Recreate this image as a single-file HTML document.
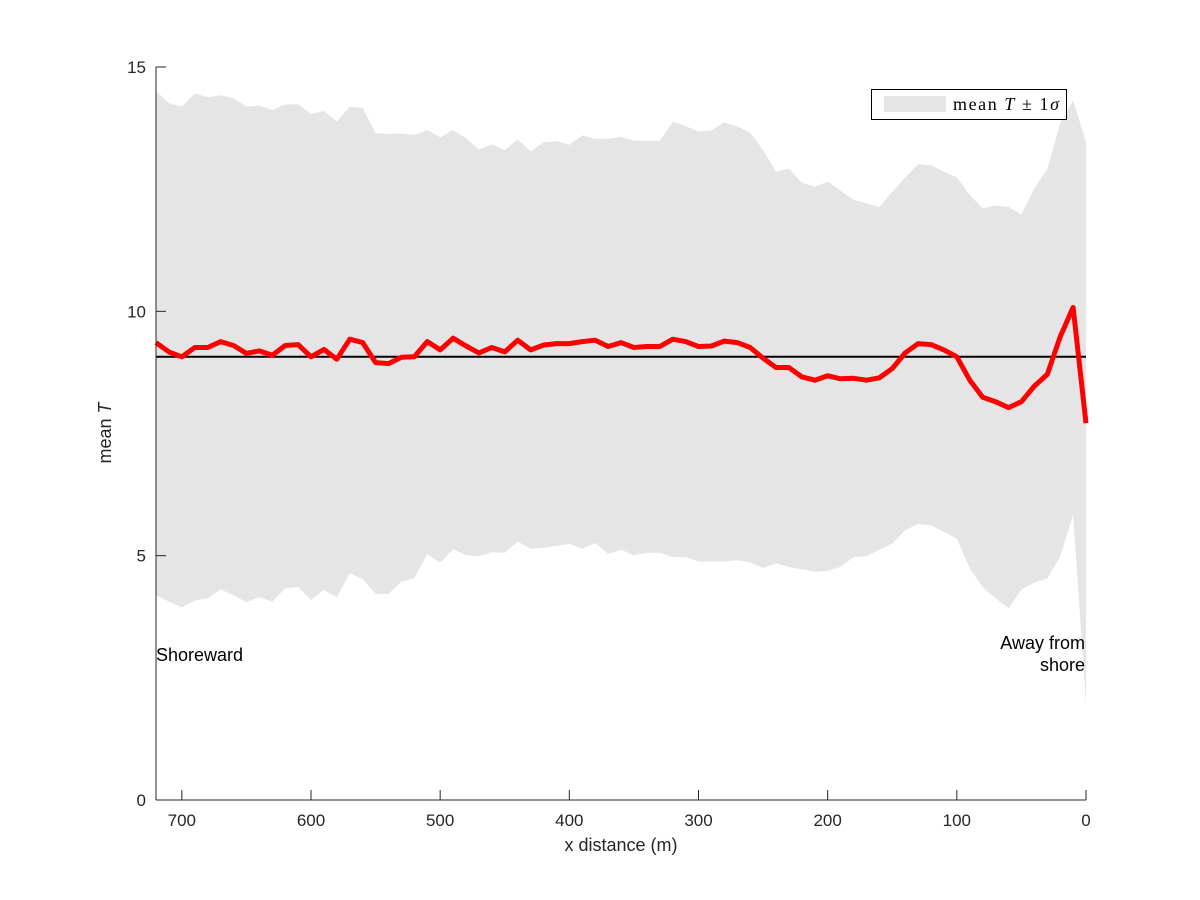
<!DOCTYPE html>
<html><head><meta charset="utf-8"><style>
html,body{margin:0;padding:0;background:#fff;}
svg{display:block;font-family:"Liberation Sans",Arial,sans-serif;}
</style></head><body>
<svg id="chart" width="1200" height="900" viewBox="0 0 1200 900" xmlns="http://www.w3.org/2000/svg">
<rect width="1200" height="900" fill="#fff"/>
<g id="band"></g>
<g id="lines"></g>
<g id="axes"></g>
<text x="156" y="661" font-size="18" fill="#000">Shoreward</text>
<text x="1085" y="649" font-size="18" fill="#000" text-anchor="end">Away from</text>
<text x="1085" y="671" font-size="18" fill="#000" text-anchor="end">shore</text>
<g>
<rect x="871.5" y="89.5" width="195" height="30" fill="#fff" stroke="#000" stroke-width="1"/>
<rect x="884" y="96" width="62" height="16" fill="#e5e5e5"/>
<text x="953" y="110" font-size="18" font-family="'Liberation Serif',serif" textLength="106" lengthAdjust="spacing">mean  <tspan font-style="italic">T</tspan> ± 1<tspan font-style="italic">σ</tspan></text>
</g>
</svg>
<script>
const xs = [720,710,700,690,680,670,660,650,640,630,620,610,600,590,580,570,560,550,540,530,520,510,500,490,480,470,460,450,440,430,420,410,400,390,380,370,360,350,340,330,320,310,300,290,280,270,260,250,240,230,220,210,200,190,180,170,160,150,140,130,120,110,100,90,80,70,60,50,40,30,20,10,0];
const meanT = [9.36,9.17,9.07,9.26,9.26,9.38,9.30,9.14,9.19,9.10,9.30,9.32,9.07,9.22,9.02,9.43,9.36,8.95,8.93,9.06,9.07,9.38,9.21,9.45,9.29,9.15,9.26,9.17,9.41,9.21,9.31,9.34,9.34,9.38,9.41,9.28,9.36,9.26,9.28,9.28,9.43,9.38,9.28,9.29,9.39,9.36,9.26,9.04,8.85,8.85,8.66,8.59,8.68,8.62,8.63,8.59,8.64,8.83,9.15,9.34,9.32,9.21,9.07,8.59,8.24,8.15,8.03,8.15,8.47,8.71,9.48,10.08,7.71];
const upper = [14.51,14.26,14.19,14.46,14.38,14.42,14.36,14.19,14.21,14.12,14.23,14.24,14.04,14.10,13.88,14.19,14.16,13.65,13.63,13.64,13.61,13.71,13.56,13.71,13.54,13.31,13.42,13.30,13.52,13.27,13.46,13.48,13.41,13.60,13.53,13.53,13.57,13.49,13.49,13.49,13.88,13.79,13.68,13.70,13.87,13.78,13.66,13.30,12.86,12.92,12.63,12.55,12.65,12.47,12.28,12.21,12.13,12.45,12.74,13.01,12.99,12.86,12.74,12.38,12.11,12.16,12.14,11.98,12.52,12.91,13.85,14.32,13.47];
const lower = [4.19,4.06,3.94,4.08,4.13,4.31,4.19,4.05,4.15,4.06,4.33,4.36,4.09,4.30,4.15,4.64,4.52,4.22,4.22,4.47,4.54,5.03,4.86,5.13,5.01,4.99,5.07,5.06,5.29,5.14,5.16,5.20,5.24,5.14,5.26,5.04,5.12,5.01,5.06,5.06,4.97,4.97,4.88,4.88,4.88,4.91,4.86,4.75,4.84,4.77,4.72,4.67,4.69,4.77,4.97,4.99,5.12,5.25,5.52,5.65,5.62,5.49,5.35,4.74,4.35,4.13,3.92,4.31,4.45,4.53,4.98,5.83,1.98];
const overallMean = 9.07;
const xTicks = [700,600,500,400,300,200,100,0];
const yTicks = [0,5,10,15];

const L=156,R=1086,T=67,B=800;
const X=v=>R-(v-0)/(720-0)*(R-L);
const Y=v=>B-(v-0)/(15-0)*(B-T);
const NS="http://www.w3.org/2000/svg";
function mk(tag,attrs,parent){const e=document.createElementNS(NS,tag);for(const k in attrs)e.setAttribute(k,attrs[k]);parent.appendChild(e);return e;}

let d="";
xs.forEach((x,i)=>{d+=(i?"L":"M")+X(x).toFixed(1)+","+Y(upper[i]).toFixed(1);});
for(let i=xs.length-1;i>=0;i--){d+="L"+X(xs[i]).toFixed(1)+","+Y(lower[i]).toFixed(1);}
d+="Z";
const band=mk("path",{d:d,fill:"#e5e5e5",stroke:"none"},document.getElementById("band"));



const lines=document.getElementById("lines");
const ml=mk("line",{x1:L,x2:R,y1:Y(overallMean),y2:Y(overallMean),stroke:"#000","stroke-width":2},lines);



let pd="";
xs.forEach((x,i)=>{pd+=(i?"L":"M")+X(x).toFixed(1)+","+Y(meanT[i]).toFixed(1);});
const rl=mk("path",{d:pd,fill:"none",stroke:"#ff0000","stroke-width":5,"stroke-linejoin":"round"},lines);



const ax=document.getElementById("axes");
const ysp=mk("line",{x1:L,x2:L,y1:T,y2:B,stroke:"#262626","stroke-width":1},ax);


const xsp=mk("line",{x1:L,x2:R,y1:B,y2:B,stroke:"#262626","stroke-width":1},ax);


yTicks.forEach(v=>{
  const t=mk("line",{x1:L,x2:L+10,y1:Y(v),y2:Y(v),stroke:"#262626","stroke-width":1},ax);
  
  
  const tx=mk("text",{x:L-10,y:Y(v)+6,"font-size":17,"text-anchor":"end",fill:"#262626"},ax);
  tx.textContent=v;
  
  
});
xTicks.forEach(v=>{
  const t=mk("line",{x1:X(v),x2:X(v),y1:B,y2:B-10,stroke:"#262626","stroke-width":1},ax);
  
  
  const tx=mk("text",{x:X(v),y:B+26,"font-size":17,"text-anchor":"middle",fill:"#262626"},ax);
  tx.textContent=v;
  
  
});
const xt=mk("text",{x:621,y:851,"font-size":18,"text-anchor":"middle",fill:"#262626"},ax);
xt.textContent="x distance (m)";


const yt=mk("text",{x:0,y:0,"font-size":18,"text-anchor":"middle",fill:"#262626",transform:"translate(111,433) rotate(-90)"},ax);
yt.innerHTML='mean <tspan font-style="italic">T</tspan>';


</script>
</body></html>
